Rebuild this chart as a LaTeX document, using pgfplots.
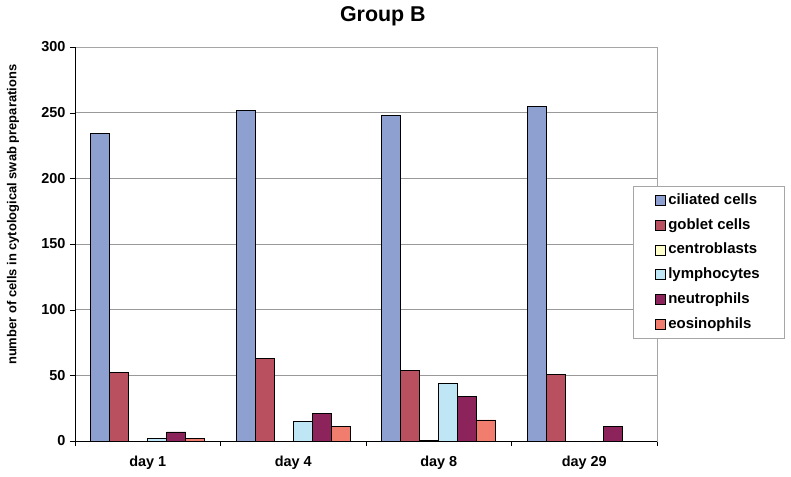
\documentclass[border=0pt]{standalone}
\usepackage{fontspec}
\setmainfont{Liberation Sans}
\usepackage{pgfplots}
\pgfplotsset{compat=1.18}
\definecolor{cCil}{RGB}{142,160,208}
\definecolor{cGob}{RGB}{185,80,95}
\definecolor{cCen}{RGB}{255,255,204}
\definecolor{cLym}{RGB}{190,230,245}
\definecolor{cNeu}{RGB}{140,35,90}
\definecolor{cEos}{RGB}{240,125,110}
\begin{document}
\begin{tikzpicture}
\begin{axis}[
  at={(0,0)}, anchor=south west,
  scale only axis,
  width=582bp, height=394bp,
  xmin=-0.5, xmax=3.5, ymin=0, ymax=300,
  ybar=0pt, bar width=19bp,
  xtick={0,1,2,3},
  xticklabels={day 1,day 4,day 8,day 29},
  minor xtick={-0.5,0.5,1.5,2.5,3.5},
  major x tick style={draw=none},
  minor x tick style={draw=black},
  xtick pos=bottom, ytick pos=left,
  ytick={0,50,...,300},
  tick align=outside,
  major tick length=5bp, minor tick length=5bp,
  tick style={black},
  ymajorgrids, grid style={gray!80, line width=0.6bp},
  axis line style={draw=gray!70},
  /pgf/number format/assume math mode=true,
  ticklabel style={font=\bfseries\fontsize{14.5}{17}\selectfont},
  xticklabel style={yshift=-7bp},
  yticklabel style={xshift=-1bp},
  ylabel={number of cells in cytological swab preparations},
  ylabel style={at={(axis description cs:-0.1065,0.574)}, anchor=center, font=\bfseries\fontsize{13}{15}\selectfont},
  title={Group B},
  title style={at={(axis description cs:0.529,1)}, anchor=base, yshift=20bp, font=\bfseries\fontsize{21.5}{25}\selectfont},
  legend style={at={(axis description cs:0.9588,0.6472)}, anchor=north west,
    draw=gray!70, fill=white, line width=0.6bp,
    font=\bfseries\fontsize{15}{17}\selectfont,
    inner xsep=22bp, inner ysep=7bp, row sep=10.8bp,
    nodes={inner xsep=2.5bp, inner ysep=0bp, text height=11bp, text depth=3bp},
    cells={anchor=west}},
  legend image code/.code={\draw[#1,draw=black,line width=0.5bp] (0bp,-5bp) rectangle (10bp,5bp);},
  every axis plot/.append style={draw=black, line width=0.6bp},
]
\addplot[fill=cCil] coordinates {(0,234) (1,252) (2,248) (3,255)};
\addplot[fill=cGob] coordinates {(0,52) (1,63) (2,54) (3,51)};
\addplot[fill=cCen] coordinates {(0,0) (1,0) (2,0.6) (3,0)};
\addplot[fill=cLym] coordinates {(0,2) (1,15) (2,44) (3,0)};
\addplot[fill=cNeu] coordinates {(0,7) (1,21) (2,34) (3,11)};
\addplot[fill=cEos] coordinates {(0,2) (1,11) (2,16) (3,0)};
\legend{ciliated cells,goblet cells,centroblasts,lymphocytes,neutrophils,eosinophils}
\draw[black, line width=0.7bp] (rel axis cs:0,1) -- (rel axis cs:0,0) -- (rel axis cs:1,0);
\end{axis}
\pgfresetboundingbox
\useasboundingbox (-75bp,-36bp) rectangle (716bp,441bp);
\end{tikzpicture}
\end{document}
